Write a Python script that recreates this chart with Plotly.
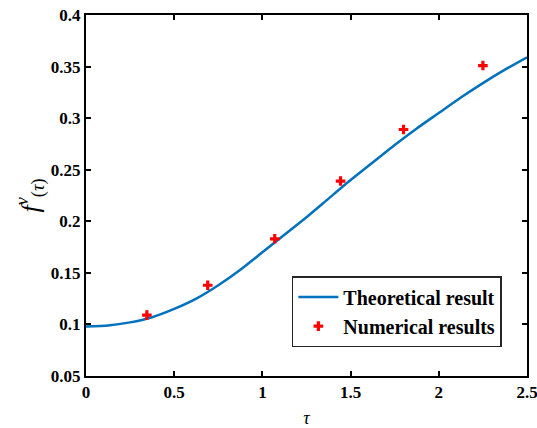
import plotly.graph_objects as go

# Theoretical curve samples
tau_theory = [0.0, 0.125, 0.25, 0.375, 0.5, 0.625, 0.75, 0.875, 1.0, 1.125, 1.25,
              1.375, 1.5, 1.625, 1.75, 1.875, 2.0, 2.125, 2.25, 2.375, 2.5]
f_theory = [0.098, 0.099, 0.102, 0.107, 0.115, 0.125, 0.138, 0.153, 0.170, 0.187, 0.204,
            0.222, 0.240, 0.257, 0.274, 0.290, 0.305, 0.320, 0.334, 0.347, 0.359]

# Numerical results
tau_num = [0.345, 0.69, 1.07, 1.443, 1.80, 2.25]
f_num = [0.109, 0.138, 0.183, 0.239, 0.289, 0.351]

x_ticks = [0, 0.5, 1, 1.5, 2, 2.5]
x_labels = ["0", "0.5", "1", "1.5", "2", "2.5"]
y_ticks = [0.05, 0.1, 0.15, 0.2, 0.25, 0.3, 0.35, 0.4]
y_labels = ["0.05", "0.1", "0.15", "0.2", "0.25", "0.3", "0.35", "0.4"]

font_family = "Liberation Serif"

fig = go.Figure()
fig.add_trace(go.Scatter(
    x=tau_theory, y=f_theory, mode="lines", name="<b>Theoretical result</b>",
    line=dict(color="#0072BD", width=2.5, shape="spline", smoothing=0.5),
))
fig.add_trace(go.Scatter(
    x=tau_num, y=f_num, mode="markers", name="<b>Numerical results</b>",
    marker=dict(symbol="cross", size=8, color="#FF0000", line=dict(width=0)),
))

axis_common = dict(
    showline=True, linecolor="black", linewidth=2, mirror="ticks",
    ticks="inside", ticklen=5, tickwidth=2, tickcolor="black",
    showgrid=False, zeroline=False, automargin=False,
    ticklabeloverflow="allow",
    tickfont=dict(family=font_family, size=17, color="black", weight="bold"),
)

fig.update_layout(
    width=537, height=428,
    margin=dict(l=86, r=10, t=15, b=52),
    paper_bgcolor="white", plot_bgcolor="white",
    showlegend=True,
    legend=dict(
        x=0.943, y=0.08, xanchor="right", yanchor="bottom",
        bgcolor="white", bordercolor="#262626", borderwidth=1.5,
        font=dict(family=font_family, size=20, color="black"),
        tracegroupgap=0, itemwidth=40,
    ),
    xaxis=dict(
        range=[0, 2.5], tickvals=x_ticks, ticktext=x_labels,
        title=dict(text="<i>τ</i>", font=dict(family=font_family, size=18, color="black"), standoff=12),
        **axis_common,
    ),
    yaxis=dict(
        range=[0.05, 0.4], tickvals=y_ticks, ticktext=y_labels,
        title=dict(text="<i>f</i><sup><i>ν</i></sup><sub>(<i>τ</i>)</sub>",
                   font=dict(family=font_family, size=26, color="black"), standoff=4),
        **axis_common,
    ),
)

fig.write_html("out.html")
